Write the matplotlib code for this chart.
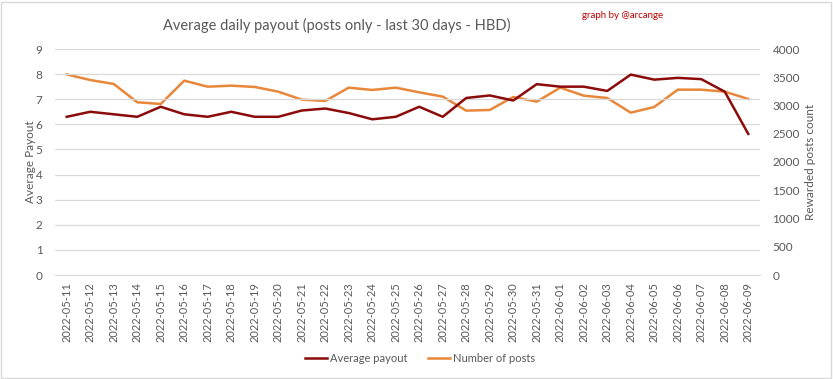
import matplotlib
matplotlib.use("Agg")
import matplotlib.pyplot as plt
from matplotlib.patches import Rectangle

dates = ["2022-05-11", "2022-05-12", "2022-05-13", "2022-05-14", "2022-05-15",
         "2022-05-16", "2022-05-17", "2022-05-18", "2022-05-19", "2022-05-20",
         "2022-05-21", "2022-05-22", "2022-05-23", "2022-05-24", "2022-05-25",
         "2022-05-26", "2022-05-27", "2022-05-28", "2022-05-29", "2022-05-30",
         "2022-05-31", "2022-06-01", "2022-06-02", "2022-06-03", "2022-06-04",
         "2022-06-05", "2022-06-06", "2022-06-07", "2022-06-08", "2022-06-09"]
avg_payout = [6.3, 6.5, 6.4, 6.3, 6.7, 6.4, 6.3, 6.5, 6.3, 6.3,
              6.55, 6.63, 6.45, 6.2, 6.3, 6.7, 6.3, 7.05, 7.15, 6.95,
              7.6, 7.5, 7.5, 7.33, 7.98, 7.78, 7.85, 7.8, 7.3, 5.62]
num_posts = [3550, 3451, 3381, 3057, 3027, 3440, 3333, 3351, 3328, 3245,
             3104, 3080, 3316, 3275, 3316, 3233, 3157, 2909, 2921, 3151,
             3068, 3316, 3174, 3133, 2873, 2974, 3280, 3280, 3245, 3115]

plt.rcParams['font.family'] = ['Lato', 'DejaVu Sans']
gray = "#595959"
c1 = "#8B0A0A"
c2 = "#E8873A"

fig = plt.figure(figsize=(8.33, 3.79), dpi=100)
ax = fig.add_axes([55/833, 1-275/379, (760-55)/833, (275-49)/379])
ax2 = ax.twinx()

x = list(range(len(dates)))
l1, = ax.plot(x, avg_payout, color=c1, lw=1.8, label="Average payout", zorder=3)
l2, = ax2.plot(x, num_posts, color=c2, lw=1.8, label="Number of posts", zorder=2)
ax.set_zorder(ax2.get_zorder() + 1)
ax.patch.set_visible(False)

ax.set_xlim(-0.5, len(dates) - 0.5)
ax.set_ylim(0, 9)
ax2.set_ylim(0, 4000)
ax.set_yticks(range(0, 10))
ax2.set_yticks(range(0, 4001, 500))
ax.set_xticks(x)
ax.set_xticklabels(dates, rotation=90, fontsize=8, color=gray)
ax.tick_params(axis='y', labelsize=8.5, colors=gray, length=0, pad=9)
ax2.tick_params(axis='y', labelsize=8.5, colors=gray, length=0, pad=9)
ax.tick_params(axis='x', length=0, pad=5)
ax.grid(axis='y', color="#D9D9D9", lw=0.9)
ax.set_axisbelow(True)
for a in (ax, ax2):
    for s in a.spines.values():
        s.set_visible(False)
ax.spines['bottom'].set_visible(True)
ax.spines['bottom'].set_color("#D9D9D9")

ax.set_ylabel("Average Payout", fontsize=8.5, color=gray)
ax2.set_ylabel("Rewarded posts count", fontsize=8.5, color=gray)
ax.yaxis.set_label_coords(-0.027, 0.5)
ax2.yaxis.set_label_coords(1.064, 0.5)

fig.text(337/833, 1-25/379, "Average daily payout (posts only - last 30 days - HBD)",
         ha='center', va='center', fontsize=10.5, color=gray)
fig.text(623/833, 1-15/379, "graph by @arcange", ha='center', va='center',
         fontsize=7, color="#C00000")

fig.legend(handles=[l1, l2], loc='center', bbox_to_anchor=(420/833, 1-358/379),
           ncol=2, frameon=False, fontsize=8, labelcolor=gray,
           handlelength=2.0, handletextpad=0.3, columnspacing=1.8)

fig.patches.append(Rectangle((1/833, 1/379), 830/833, 376/379, transform=fig.transFigure,
                             fill=False, edgecolor="#D9D9D9", lw=1))

fig.savefig("out.png", dpi=100)
